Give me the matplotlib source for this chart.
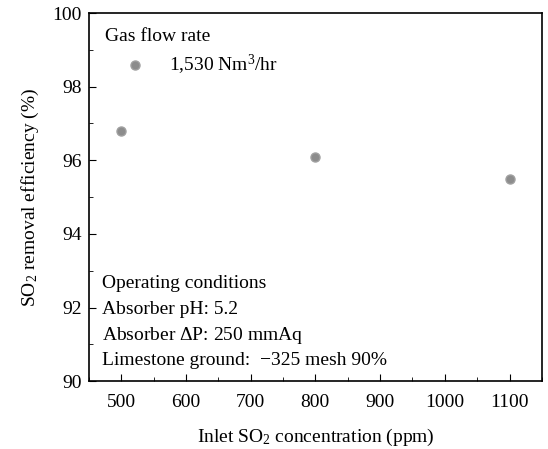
import matplotlib
matplotlib.use('Agg')
import matplotlib.pyplot as plt
from matplotlib.ticker import MultipleLocator

plt.rcParams['font.family'] = ['Liberation Serif', 'DejaVu Serif']
plt.rcParams['mathtext.fontset'] = 'custom'
plt.rcParams['mathtext.rm'] = 'Liberation Serif'
plt.rcParams['mathtext.it'] = 'Liberation Serif:italic'

# data
conc = [500, 800, 1100]
eff = [96.8, 96.1, 95.5]
legend_pt = (521, 98.6)

conditions = ['Operating conditions',
              'Absorber pH: 5.2',
              r'Absorber $\Delta$P: 250 mmAq',
              'Limestone ground:  \u2212325 mesh 90%']

fs = 14

fig = plt.figure(figsize=(5.48, 4.49), dpi=100)
ax = fig.add_axes([0.162, 0.151, 0.827, 0.82])

ax.plot(conc, eff, 'o', color='#8c8c8c', markersize=6.5, markeredgecolor='#a0a0a0')
ax.plot(*legend_pt, 'o', color='#8c8c8c', markersize=6.5, markeredgecolor='#a0a0a0')

ax.set_xlim(450, 1150)
ax.set_ylim(90, 100)
ax.xaxis.set_major_locator(MultipleLocator(100))
ax.xaxis.set_minor_locator(MultipleLocator(50))
ax.yaxis.set_major_locator(MultipleLocator(2))
ax.yaxis.set_minor_locator(MultipleLocator(1))
ax.tick_params(which='both', direction='in', labelsize=fs)
ax.tick_params(which='major', length=5)
ax.tick_params(which='minor', length=3)
ax.tick_params(axis='x', pad=9)
ax.tick_params(axis='y', pad=5)

ax.set_xlabel(r'Inlet SO$_2$ concentration (ppm)', fontsize=fs, labelpad=12)
ax.set_ylabel(r'SO$_2$ removal efficiency (%)', fontsize=fs, labelpad=8)

ax.text(0.035, 0.935, 'Gas flow rate', transform=ax.transAxes, fontsize=fs, va='center')
ax.text(0.178, 0.858, r'1,530 Nm$^3$/hr', transform=ax.transAxes, fontsize=fs, va='center')

y0 = 0.265
for i, line in enumerate(conditions):
    ax.text(0.03, y0 - i * 0.07, line, transform=ax.transAxes, fontsize=fs, va='center')

for s in ax.spines.values():
    s.set_linewidth(1.2)

fig.savefig('out.png', dpi=100)
